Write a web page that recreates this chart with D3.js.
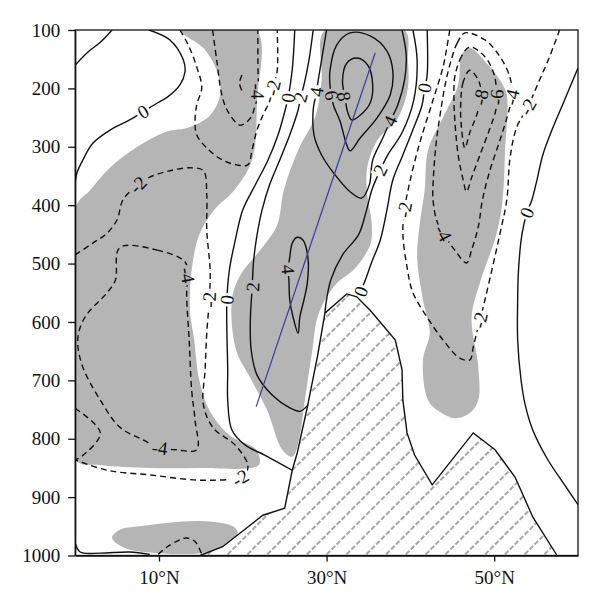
<!DOCTYPE html>
<html>
<head>
<meta charset="utf-8">
<script src="https://cdn.jsdelivr.net/npm/d3@7"></script>
<style>
    body { margin: 0; background: #fff; }
    svg text { font-family: "Liberation Serif", "Times New Roman", serif; }
</style>
</head>
<body>
<div id="chart"></div>
<script>

// axis ticks
const pressureTicks = [100, 200, 300, 400, 500, 600, 700, 800, 900, 1000];
const latTicks = [10, 30, 50];

// shaded areas, [lat, hPa]
const shadeWest = [[12.5,100],[21.6,100],[21.7,220],[21.1,323],[19.0,374],[16.6,408],[14.8,451],[13.9,511],[13.7,580],[14.2,631],[14.8,699],[16.0,751],[18.4,794],[21.6,819],[21.9,845],[14.9,850],[8.9,850],[3.0,845],[0,836],[0,405],[1.8,374],[4.2,335],[7.4,300],[10.7,275],[13.7,266],[16.1,246],[17.3,211],[16.9,170],[15.3,131]];
const shadeCentre = [[29.8,100],[39.3,100],[39.7,151],[39.7,199],[38.5,251],[36.1,288],[34.9,331],[34.8,374],[35.4,434],[35.2,468],[33.4,508],[31.0,537],[29.0,588],[28.3,648],[27.4,734],[26.7,802],[25.9,831],[24.7,819],[22.9,751],[20.9,696],[19.2,648],[18.7,562],[19.7,520],[22.3,473],[24.1,434],[24.9,374],[26.6,306],[28.7,246],[29.4,186]];
const shadeEast = [[47.1,131],[49.1,157],[50.7,186],[51.5,211],[51.3,306],[51.0,391],[50.3,448],[48.3,533],[47.3,592],[48.1,677],[48.1,734],[47.1,756],[45.3,765],[43.5,754],[42.1,734],[41.5,665],[42.3,619],[41.5,562],[40.8,489],[41.1,434],[41.7,374],[42.1,306],[43.9,249],[45.7,194],[46.1,143]];
const shadeSurface = [[4.4,970],[5.3,956],[7.7,950],[14.9,941],[18.8,950],[19.4,961],[18.2,984],[14.9,996],[10.1,996],[5.9,987]];

// topography
const terrain = [[14.9,1000],[17.6,985],[22.4,931],[25.0,919],[25.9,854],[26.5,824],[27.7,746],[28.9,660],[29.8,585],[32.4,552],[33.6,557],[35.2,580],[38.2,631],[39.0,682],[39.1,734],[39.6,790],[40.5,828],[42.6,879],[47.5,790],[50.1,819],[52.5,866],[54.6,934],[57.5,1000]];

// section line
const crossSection = [[21.6,745],[35.8,139]];

// contours, [lat, hPa]
const c0TopLeft = [[4.4,100],[3.0,121],[1.5,138],[0,160]];
const c0West = [[8.8,100],[11.3,117],[12.9,151],[13.1,172],[12.5,194],[11.0,215],[9.8,225],[8.1,240],[6.5,254],[4.2,271],[2.1,294],[0.9,323],[0.2,345],[0,362]];
const c0Centre = [[26.2,100],[25.9,168],[25.4,216],[25.0,240],[24.2,280],[23.0,323],[21.5,365],[20.0,408],[19.1,460],[18.4,511],[18.1,562],[18.1,614],[18.2,682],[18.2,734],[18.7,785],[20.3,811],[22.6,828],[25.9,854]];
const c0East = [[42.0,100],[42.0,177],[41.7,199],[41.4,228],[40.3,271],[39.1,314],[37.9,357],[37.2,408],[36.4,460],[35.4,497],[34.7,525],[34.3,540],[33.9,555]];
const c0FarEast = [[60,165],[58.4,220],[56.9,271],[55.8,314],[55.1,357],[54.5,391],[53.9,413],[53.3,451],[52.9,511],[52.8,562],[52.8,631],[53.2,699],[53.7,742],[54.6,785],[56.4,836],[58.4,879],[60,913]];
const c0Surface = [[0,979],[0.6,994],[3.0,996],[6.5,994],[8.9,998]];
const c2West = [[28.4,100],[27.9,151],[27.3,194],[26.9,215],[26.6,237],[25.6,280],[24.4,323],[23.2,365],[22.3,408],[21.7,451],[21.3,494],[21.1,545],[20.9,597],[21.0,648],[21.7,691],[23.5,725],[25.6,747],[26.8,753],[27.8,742]];
const c2East = [[40.3,100],[40.8,151],[40.4,220],[39.0,276],[37.3,314],[36.4,340],[35.4,374],[34.7,412],[33.8,451],[31.9,485],[30.5,528],[29.9,571],[29.8,585]];
const c4Upper = [[30.0,100],[29.4,151],[29.0,186],[28.8,206],[28.4,237],[28.5,280],[29.4,314],[31.0,348],[32.8,377],[34.2,388],[35.1,365],[35.5,323],[36.7,285],[37.6,256],[38.5,228],[39.3,186],[39.5,143],[39.0,100]];
const c4Lower = [[26.5,455],[27.2,460],[27.8,494],[27.7,533],[27.3,562],[26.8,592],[26.6,619],[26.0,592],[25.6,562],[25.5,528],[25.4,510],[25.6,490],[25.9,465]];
const c6Core = [[30.8,228],[30.4,194],[30.4,170],[31.2,126],[32.8,105],[35.2,110],[37.2,136],[37.9,170],[37.6,211],[36.0,251],[34.0,285],[32.8,307],[32.4,297],[31.6,256]];
const c8Core = [[32.2,216],[31.9,186],[32.4,157],[33.6,148],[34.9,160],[35.5,194],[35.2,225],[34.0,246],[33.0,254],[32.5,240]];
const m2NorthWest = [[12.5,100],[13.5,126],[14.5,163],[15.1,199],[14.5,228],[14.3,258],[14.5,280],[15.7,302],[17.6,323],[19.3,331],[20.6,331],[21.1,306],[21.7,271],[22.4,246],[23.2,222],[23.6,199],[24.1,170],[24.1,100]];
const m4North = [[16.4,100],[16.9,153],[17.5,211],[18.2,239],[19.7,263],[20.9,251],[21.5,228],[21.8,211],[21.8,151],[21.8,100]];
const m6North = [[19.9,177],[19.6,191],[19.9,204]];
const m2West = [[0,485],[2.1,465],[3.8,448],[5.0,425],[5.7,391],[7.5,365],[8.9,352],[11.3,341],[13.7,336],[15.3,341],[15.7,383],[15.7,443],[16.1,511],[16.0,562],[15.7,619],[15.5,682],[15.3,742],[16.5,782],[19.1,811],[20.6,845],[20.3,862],[19.7,867],[14.9,871],[8.9,862],[3.8,854],[0,836]];
const m2Edge = [[0,748],[3.0,790],[0.8,830],[0,836]];
const m4West = [[5.3,473],[9.8,477],[13.1,497],[13.4,520],[13.3,554],[13.6,631],[13.9,717],[14.3,768],[14.5,819],[12.1,819],[10.1,816],[8.1,802],[5.3,780],[3.0,734],[0.9,677],[0.3,636],[0.6,609],[1.5,585],[3.8,550],[4.8,528]];
const m2Surface = [[9.9,998],[11.0,985],[12.5,973],[13.3,970],[14.3,976],[15.1,998]];
const m2East = [[44.7,100],[44.4,126],[43.9,163],[42.7,220],[41.1,294],[39.9,362],[39.3,408],[39.1,448],[39.6,506],[40.3,550],[42.0,592],[43.9,631],[45.9,662],[47.1,665],[47.5,643],[47.9,619],[48.3,597],[48.9,562],[49.8,506],[50.7,448],[51.5,391],[51.9,318],[52.7,266],[54.0,232],[55.4,186],[56.6,146],[57.8,100]];
const m4East = [[46.5,105],[45.6,122],[44.9,150],[44.2,190],[43.6,240],[43.1,290],[42.8,340],[42.7,391],[43.2,429],[43.9,448],[45.3,477],[46.7,499],[47.3,477],[48.1,437],[48.6,391],[49.5,340],[50.7,288],[51.6,246],[52.1,215],[51.9,182],[50.7,146],[48.9,117]];
const m6East = [[47.1,129],[46.1,145],[45.3,180],[45.2,215],[45.3,254],[45.7,314],[46.3,357],[46.7,377],[47.3,353],[48.3,314],[49.5,268],[50.2,237],[50.3,215],[50.0,177],[48.9,146]];
const m8East = [[47.1,169],[46.3,189],[46.0,228],[46.1,268],[46.5,302],[47.1,275],[47.9,246],[48.4,215],[48.2,189]];

const contours = [
    { level: 0, pts: c0TopLeft }, { level: 0, pts: c0West }, { level: 0, pts: c0Centre },
    { level: 0, pts: c0East }, { level: 0, pts: c0FarEast }, { level: 0, pts: c0Surface },
    { level: 2, pts: c2West }, { level: 2, pts: c2East },
    { level: 4, pts: c4Upper }, { level: 4, pts: c4Lower, closed: true },
    { level: 6, pts: c6Core, closed: true }, { level: 8, pts: c8Core, closed: true },
    { level: -2, pts: m2NorthWest }, { level: -4, pts: m4North }, { level: -6, pts: m6North },
    { level: -2, pts: m2West }, { level: -2, pts: m2Edge }, { level: -4, pts: m4West, closed: true },
    { level: -2, pts: m2Surface }, { level: -2, pts: m2East },
    { level: -4, pts: m4East, closed: true }, { level: -6, pts: m6East, closed: true },
    { level: -8, pts: m8East, closed: true }
];

// label spots on the contours
const contourLabels = [
    [c0West, 8.1, 240], [c0Centre, 25.4, 216], [c0Centre, 18.1, 562],
    [c0East, 41.7, 199], [c0East, 34.1, 548], [c0FarEast, 53.9, 413],
    [c2West, 26.9, 215], [c2West, 21.2, 540], [c2East, 36.4, 340],
    [c4Upper, 28.8, 206], [c4Upper, 37.6, 256], [c4Lower, 25.4, 510],
    [c6Core, 30.6, 212], [c8Core, 32.1, 214],
    [m2NorthWest, 23.6, 199], [m4North, 21.8, 205],
    [m2West, 7.5, 365], [m2West, 16.0, 562], [m2West, 19.7, 867],
    [m4West, 13.4, 520], [m4West, 10.1, 816],
    [m2East, 39.3, 408], [m2East, 48.3, 597], [m2East, 54.0, 232],
    [m4East, 43.9, 448], [m4East, 52.1, 215], [m6East, 50.3, 215], [m8East, 48.4, 215]
];

const W = 600, H = 606;
const x = d3.scaleLinear().domain([0, 60]).range([75.2, 578]);
const y = d3.scaleLinear().domain([100, 1000]).range([30, 555.5]);

const svg = d3.select("#chart").append("svg")
    .attr("width", W)
    .attr("height", H);

const defs = svg.append("defs");
defs.append("clipPath").attr("id", "plot")
    .append("rect")
        .attr("x", x(0)).attr("y", y(100))
        .attr("width", x(60) - x(0)).attr("height", y(1000) - y(100));

const hatch = defs.append("pattern")
    .attr("id", "hatch")
    .attr("patternUnits", "userSpaceOnUse")
    .attr("width", 14).attr("height", 14)
    .attr("patternTransform", "rotate(-45)");
hatch.append("line")
    .attr("x1", 0).attr("y1", 7).attr("x2", 14).attr("y2", 7)
    .attr("stroke", "#a6a6a6")
    .attr("stroke-width", 1.8)
    .attr("stroke-dasharray", "5,2");

const labelMask = defs.append("mask")
    .attr("id", "labelmask")
    .attr("maskUnits", "userSpaceOnUse")
    .attr("x", 0).attr("y", 0).attr("width", W).attr("height", H);
labelMask.append("rect").attr("width", W).attr("height", H).attr("fill", "white");

const plot = svg.append("g").attr("clip-path", "url(#plot)");

const smoothClosed = d3.line().x(d => x(d[0])).y(d => y(d[1])).curve(d3.curveCatmullRomClosed.alpha(0.5));
const smoothOpen = d3.line().x(d => x(d[0])).y(d => y(d[1])).curve(d3.curveCatmullRom.alpha(0.5));
const straight = d3.line().x(d => x(d[0])).y(d => y(d[1]));

plot.selectAll("path.shade")
    .data([shadeWest, shadeCentre, shadeEast, shadeSurface])
    .join("path")
        .classed("shade", true)
        .attr("d", smoothClosed)
        .attr("fill", "#b5b5b5");

plot.append("path")
    .datum(terrain)
    .attr("d", d => straight(d) + "Z")
    .attr("fill", "#fff");
plot.append("path")
    .datum(terrain)
    .attr("d", d => straight(d) + "Z")
    .attr("fill", "url(#hatch)");

plot.append("g")
    .attr("mask", "url(#labelmask)")
    .selectAll("path")
    .data(contours)
    .join("path")
        .attr("d", d => (d.closed ? smoothClosed : smoothOpen)(d.pts))
        .attr("fill", "none")
        .attr("stroke", "#111")
        .attr("stroke-width", 1.4)
        .attr("stroke-dasharray", d => d.level < 0 ? "6,4" : null);

plot.append("path")
    .datum(terrain)
    .attr("d", straight)
    .attr("fill", "none")
    .attr("stroke", "#111")
    .attr("stroke-width", 1.4);

plot.append("path")
    .datum(crossSection)
    .attr("d", straight)
    .attr("stroke", "#3b3b9e")
    .attr("stroke-width", 1.2);

// tangent angle of the contour at the label spot
const angleAt = (c, lat, p) => {
    const px = x(lat), py = y(p);
    const pts = c.pts.map(d => [x(d[0]), y(d[1])]);
    if (c.closed) pts.push(pts[0]);
    let best = Infinity, ang = 0;
    for (let i = 0; i < pts.length - 1; i++) {
        const [ax, ay] = pts[i], [bx, by] = pts[i + 1];
        const dx = bx - ax, dy = by - ay;
        const t = Math.max(0, Math.min(1, ((px - ax) * dx + (py - ay) * dy) / (dx * dx + dy * dy)));
        const dist = Math.hypot(ax + t * dx - px, ay + t * dy - py);
        if (dist < best) {
            best = dist;
            ang = Math.atan2(dy, dx) * 180 / Math.PI;
        }
    }
    if (ang > 90) ang -= 180;
    if (ang <= -90) ang += 180;
    return ang;
};

const labelData = contourLabels.map(([pts, lat, p]) => {
    const c = contours.find(k => k.pts === pts);
    return { text: String(c.level), lat, p, angle: angleAt(c, lat, p) };
});

const labels = plot.append("g")
    .selectAll("text")
    .data(labelData)
    .join("text")
        .attr("transform", d => `translate(${x(d.lat)},${y(d.p)}) rotate(${d.angle})`)
        .attr("text-anchor", "middle")
        .attr("dy", "0.34em")
        .attr("font-size", 19)
        .attr("fill", "#111")
        .text(d => d.text);

labels.each(function (d) {
    const w = this.getComputedTextLength();
    labelMask.append("rect")
        .attr("transform", `translate(${x(d.lat)},${y(d.p)}) rotate(${d.angle})`)
        .attr("x", -w / 2 - 2).attr("y", -7.5)
        .attr("width", w + 4).attr("height", 15)
        .attr("fill", "black");
});

const styleAxis = g => {
    g.attr("font-family", "Liberation Serif, Times New Roman, serif");
    g.selectAll("text").attr("font-size", 19).attr("fill", "#111");
    g.selectAll("line, path").attr("stroke", "#111").attr("stroke-width", 1.3);
};

svg.append("g")
    .attr("transform", `translate(${x(0)},0)`)
    .call(d3.axisLeft(y).tickValues(pressureTicks).tickFormat(d3.format("d"))
        .tickSize(7).tickPadding(8).tickSizeOuter(0))
    .call(styleAxis);

svg.append("g")
    .attr("transform", `translate(0,${y(1000)})`)
    .call(d3.axisBottom(x).tickValues(latTicks).tickFormat(d => `${d}°N`)
        .tickSize(6).tickPadding(9).tickSizeOuter(0))
    .call(styleAxis);

svg.append("rect")
    .attr("x", x(0)).attr("y", y(100))
    .attr("width", x(60) - x(0)).attr("height", y(1000) - y(100))
    .attr("fill", "none")
    .attr("stroke", "#111")
    .attr("stroke-width", 1.3);

</script>
</body>
</html>
